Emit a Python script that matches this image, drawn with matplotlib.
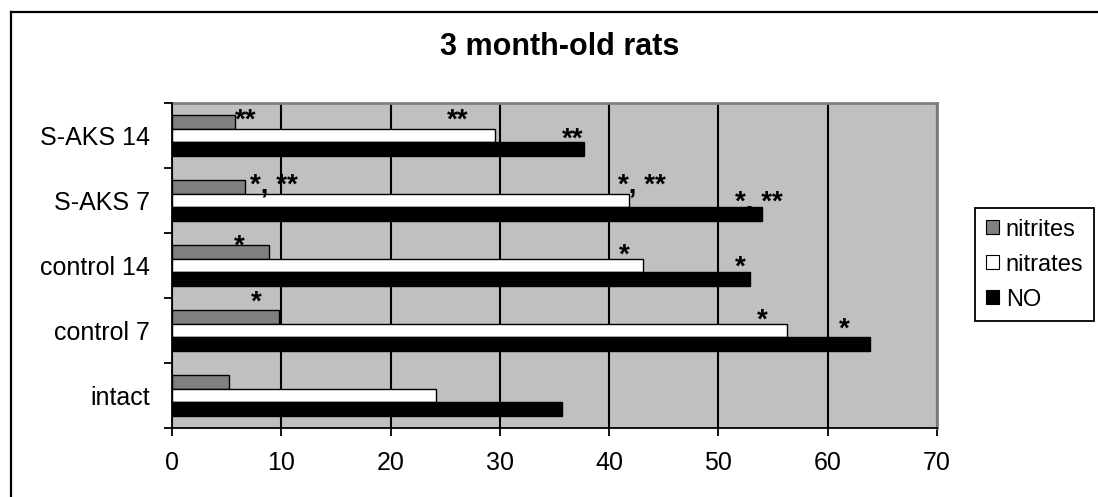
import matplotlib
matplotlib.use("Agg")
import matplotlib.pyplot as plt
from matplotlib.lines import Line2D
from matplotlib.patches import Patch
import numpy as np

plt.rcParams['font.family'] = ['Liberation Sans', 'DejaVu Sans']

# data (bottom to top)
categories = ["intact", "control 7", "control 14", "S-AKS 7", "S-AKS 14"]
nitrites = [5.2, 9.8, 8.9, 6.7, 5.8]
nitrates = [24.2, 56.3, 43.1, 41.8, 29.6]
no_total = [35.7, 63.9, 52.9, 54.0, 37.7]

# significance marks: (text, x, y) in data units
mark_text = ["**", "**", "**",
             "*, **", "*, **", "*, **",
             "*", "*", "*",
             "*", "*", "*"]
mark_x = [5.8, 25.2, 35.7,
          7.1, 40.8, 51.5,
          5.7, 40.9, 51.5,
          7.2, 53.5, 61.0]
mark_y = [4.12, 4.12, 3.83,
          3.12, 3.12, 2.86,
          2.19, 2.05, 1.86,
          1.32, 1.05, 0.91]

W, H = 1098, 497
fig = plt.figure(figsize=(W / 100, H / 100), dpi=100)

# outer chart border (only left and top are visible)
fig.add_artist(Line2D([10.5 / W, 10.5 / W], [0, 1 - 12 / H], color='black', lw=1.6,
                      transform=fig.transFigure))
fig.add_artist(Line2D([10.5 / W, 1], [1 - 12 / H, 1 - 12 / H], color='black', lw=1.6,
                      transform=fig.transFigure))

ax = fig.add_axes([172 / W, 1 - 428 / H, 765 / W, 325 / H])
ax.set_facecolor('#C0C0C0')

y = np.arange(len(categories))
h = 0.215
ax.barh(y + h, nitrites, height=h, color='#808080', edgecolor='black', lw=1.0, zorder=3,
        label='nitrites')
ax.barh(y, nitrates, height=h, color='white', edgecolor='black', lw=1.0, zorder=3,
        label='nitrates')
ax.barh(y - h, no_total, height=h, color='black', edgecolor='black', lw=1.0, zorder=3,
        label='NO')

for t, xx, yy in zip(mark_text, mark_x, mark_y):
    ax.text(xx, yy, t, fontsize=20, fontweight='bold', ha='left', va='baseline', zorder=4)

ax.set_xlim(0, 70)
ax.set_ylim(-0.5, len(categories) - 0.5)
ax.set_xticks(np.arange(0, 71, 10))
ax.set_yticks(np.arange(-0.5, len(categories), 1.0))
ax.set_yticklabels([])
ax.set_yticks(y, minor=True)
ax.set_yticklabels(categories, minor=True, fontsize=18)
ax.tick_params(axis='y', which='minor', length=0, pad=16)
ax.tick_params(axis='y', which='major', length=5.8, width=1.3, direction='out')
ax.tick_params(axis='x', length=5.8, width=1.3, direction='out', labelsize=18, pad=11)

ax.grid(axis='x', color='black', lw=1.5, zorder=1)
ax.set_axisbelow(True)

for s in ['top', 'right']:
    ax.spines[s].set_color('#808080')
    ax.spines[s].set_linewidth(2)
for s in ['left', 'bottom']:
    ax.spines[s].set_color('black')
    ax.spines[s].set_linewidth(1.3)
    ax.spines[s].set_zorder(5)

fig.text(560 / W, 1 - 47 / H, "3 month-old rats", fontsize=22, fontweight='bold',
         ha='center', va='center')

handles = [Patch(facecolor='#808080', edgecolor='black', lw=0.8),
           Patch(facecolor='white', edgecolor='black', lw=0.8),
           Patch(facecolor='black', edgecolor='black', lw=0.8)]
leg = fig.legend(handles, ['nitrites', 'nitrates', 'NO'], loc='upper left',
                 bbox_to_anchor=(975 / W, 1 - 208 / H), fontsize=17, frameon=True,
                 fancybox=False, edgecolor='black', framealpha=1, handlelength=0.55,
                 handleheight=0.55, handletextpad=0.3, labelspacing=0.55,
                 borderpad=0.45, borderaxespad=0)
leg.get_frame().set_linewidth(1.3)

fig.savefig("out.png", dpi=100)
